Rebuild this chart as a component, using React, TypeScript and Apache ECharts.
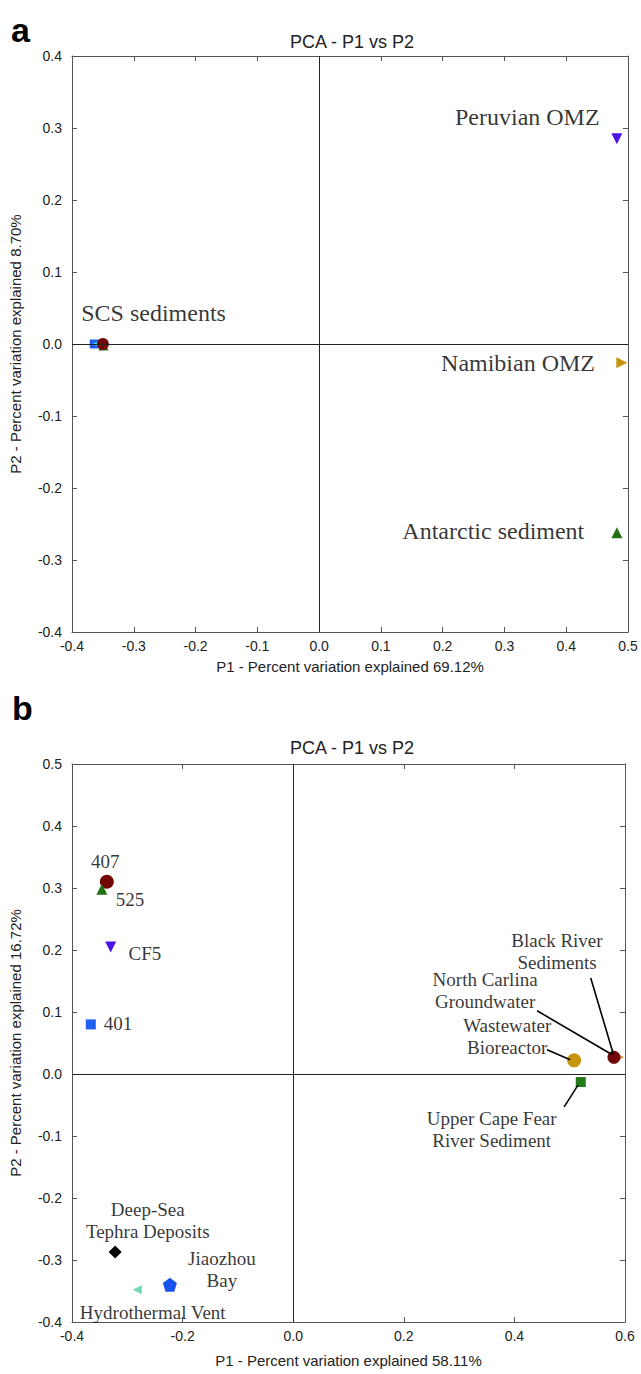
import React, { useEffect, useRef } from "react";
import * as echarts from "echarts";

// ---------- Panel a data ----------
const panelASamples = ["SCS sediment 1", "SCS sediment 2", "SCS sediment 3", "SCS sediment 4", "Peruvian OMZ", "Namibian OMZ", "Antarctic sediment"];
const panelAP1 = [-0.364, -0.361, -0.349, -0.350, 0.482, 0.490, 0.482];
const panelAP2 = [0.0, 0.0, -0.002, 0.0, 0.285, -0.026, -0.262];

const panelALabels = ["SCS sediments", "Peruvian OMZ", "Namibian OMZ", "Antarctic sediment"];
const panelALabelP1 = [-0.268, 0.337, 0.322, 0.282];
const panelALabelP2 = [0.043, 0.315, -0.026, -0.26];

// ---------- Panel b data ----------
const panelBSamples = ["401", "407", "525", "CF5", "North Carlina Groundwater", "Black River Sediments", "Wastewater Bioreactor", "Upper Cape Fear River Sediment", "Deep-Sea Tephra Deposits", "Jiaozhou Bay", "Hydrothermal Vent"];
const panelBP1 = [-0.366, -0.337, -0.346, -0.33, 0.587, 0.58, 0.508, 0.52, -0.322, -0.223, -0.282];
const panelBP2 = [0.08, 0.31, 0.298, 0.205, 0.027, 0.027, 0.022, -0.013, -0.287, -0.34, -0.348];

const panelBLabels = ["407", "525", "CF5", "401", "Black River\nSediments", "North Carlina\nGroundwater", "Wastewater\nBioreactor", "Upper Cape Fear\nRiver Sediment", "Deep-Sea\nTephra Deposits", "Jiaozhou\nBay", "Hydrothermal Vent"];
const panelBLabelP1 = [-0.34, -0.295, -0.268, -0.317, 0.477, 0.347, 0.387, 0.359, -0.263, -0.129, -0.254];
const panelBLabelP2 = [0.342, 0.282, 0.195, 0.081, 0.197, 0.135, 0.06, -0.09, -0.237, -0.316, -0.384];

// leader lines: from label end to point
const leaderFromP1 = [0.538, 0.441, 0.459, 0.515];
const leaderFromP2 = [0.155, 0.102, 0.039, -0.018];
const leaderToP1 = [0.579, 0.577, 0.501, 0.49];
const leaderToP2 = [0.032, 0.031, 0.023, -0.053];

// ---------- Axis ticks ----------
const axisAX = { min: -0.4, max: 0.5, interval: 0.1 };
const axisAY = { min: -0.4, max: 0.4, interval: 0.1 };
const axisBX = { min: -0.4, max: 0.6, interval: 0.2 };
const axisBY = { min: -0.4, max: 0.5, interval: 0.1 };

const TRI_DOWN = "path://M0,0 L10,0 L5,9 Z";
const TRI_RIGHT = "path://M0,0 L9,5 L0,10 Z";
const TRI_LEFT = "path://M9,0 L0,5 L9,10 Z";
const PENTAGON = "path://M5,0 L10,3.8 L8.1,10 L1.9,10 L0,3.8 Z";

const stylesA = [
  { symbol: "rect", color: "#1f5ff0", size: 9 },
  { symbol: TRI_LEFT, color: "#4fd6ec", size: 7 },
  { symbol: "triangle", color: "#237010", size: 10 },
  { symbol: "circle", color: "#720606", size: 12 },
  { symbol: TRI_DOWN, color: "#4a14e6", size: 11 },
  { symbol: TRI_RIGHT, color: "#c8920a", size: 11 },
  { symbol: "triangle", color: "#237010", size: 11 },
];

const stylesB = [
  { symbol: "rect", color: "#1f5ff0", size: 10 },
  { symbol: "circle", color: "#720606", size: 14 },
  { symbol: "triangle", color: "#237010", size: 11 },
  { symbol: TRI_DOWN, color: "#4a14e6", size: 11 },
  { symbol: TRI_RIGHT, color: "#e08a1e", size: 12 },
  { symbol: "circle", color: "#720606", size: 13 },
  { symbol: "circle", color: "#c8960c", size: 14 },
  { symbol: "rect", color: "#237a18", size: 10 },
  { symbol: "diamond", color: "#000000", size: 13 },
  { symbol: PENTAGON, color: "#1652ee", size: 14 },
  { symbol: TRI_LEFT, color: "#6ed8b6", size: 9 },
];

const SANS = "Liberation Sans";
const SERIF = "Liberation Serif";

const fmt = (v: number) => (Math.abs(v) < 1e-9 ? "0.0" : v.toFixed(1));

function mainAxis(kind: "x" | "y", gridIndex: number, range: any, name: string, nameGap: number) {
  return {
    type: "value",
    gridIndex,
    position: kind === "x" ? "bottom" : "left",
    ...range,
    name,
    nameLocation: "middle",
    nameGap,
    nameTextStyle: { fontFamily: SANS, fontSize: 15, color: "#222" },
    axisLine: { show: true, onZero: false, lineStyle: { color: "#555", width: 1 } },
    axisTick: { show: true, inside: true, length: 5, lineStyle: { color: "#555" } },
    axisLabel: { show: true, formatter: fmt, fontFamily: SANS, fontSize: 14, color: "#222", margin: kind === "x" ? 7 : 10 },
    splitLine: { show: false },
  };
}

function mirrorAxis(kind: "x" | "y", gridIndex: number, range: any) {
  return {
    type: "value",
    gridIndex,
    position: kind === "x" ? "top" : "right",
    ...range,
    axisLine: { show: true, onZero: false, lineStyle: { color: "#555", width: 1 } },
    axisTick: { show: true, inside: true, length: 5, lineStyle: { color: "#555" } },
    axisLabel: { show: false },
    splitLine: { show: false },
  };
}

export default function App() {
  const ref = useRef<HTMLDivElement>(null);
  useEffect(() => {
    if (!ref.current) return;
    const chart = echarts.init(ref.current, null, { renderer: "svg" });

    const pointsA = panelASamples.map((n, i) => ({
      name: n,
      value: [panelAP1[i], panelAP2[i]],
      symbol: stylesA[i].symbol,
      symbolSize: stylesA[i].size,
      itemStyle: { color: stylesA[i].color, opacity: 1 },
    }));
    const pointsB = panelBSamples.map((n, i) => ({
      name: n,
      value: [panelBP1[i], panelBP2[i]],
      symbol: stylesB[i].symbol,
      symbolSize: stylesB[i].size,
      itemStyle: { color: stylesB[i].color, opacity: 1 },
    }));
    const labelsA = panelALabels.map((n, i) => ({ name: n, value: [panelALabelP1[i], panelALabelP2[i]] }));
    const labelsB = panelBLabels.map((n, i) => ({ name: n, value: [panelBLabelP1[i], panelBLabelP2[i]] }));
    const leaders = leaderFromP1.map((_, i) => [
      { coord: [leaderFromP1[i], leaderFromP2[i]] },
      { coord: [leaderToP1[i], leaderToP2[i]] },
    ]);

    const zeroLine = {
      silent: true,
      symbol: ["none", "none"],
      label: { show: false },
      lineStyle: { color: "#222", width: 1, type: "solid" },
      emphasis: { disabled: true },
    };

    const option: any = {
      animation: false,
      backgroundColor: "#ffffff",
      title: [
        { text: "a", left: 6, top: 8, textStyle: { fontFamily: SANS, fontSize: 34, fontWeight: "bold", color: "#000" } },
        { text: "PCA - P1 vs P2", left: 347, top: 28, textAlign: "center", textStyle: { fontFamily: SANS, fontSize: 18, fontWeight: "normal", color: "#222" } },
        { text: "b", left: 7, top: 686, textStyle: { fontFamily: SANS, fontSize: 34, fontWeight: "bold", color: "#000" } },
        { text: "PCA - P1 vs P2", left: 347, top: 734, textAlign: "center", textStyle: { fontFamily: SANS, fontSize: 18, fontWeight: "normal", color: "#222" } },
      ],
      grid: [
        { left: 71, top: 56, width: 557, height: 576, containLabel: false },
        { left: 72, top: 764, width: 553, height: 558, containLabel: false },
      ],
      xAxis: [
        mainAxis("x", 0, axisAX, "P1 - Percent variation explained 69.12%", 27),
        mirrorAxis("x", 0, axisAX),
        mainAxis("x", 1, axisBX, "P1 - Percent variation explained 58.11%", 31),
        mirrorAxis("x", 1, axisBX),
      ],
      yAxis: [
        mainAxis("y", 0, axisAY, "P2 - Percent variation explained 8.70%", 49),
        mirrorAxis("y", 0, axisAY),
        mainAxis("y", 1, axisBY, "P2 - Percent variation explained 16.72%", 49),
        mirrorAxis("y", 1, axisBY),
      ],
      series: [
        {
          type: "scatter",
          xAxisIndex: 0,
          yAxisIndex: 0,
          silent: true,
          symbolSize: 0.1,
          itemStyle: { color: "transparent" },
          data: labelsA,
          label: {
            show: true,
            position: "inside",
            formatter: "{b}",
            fontFamily: SERIF,
            fontSize: 24,
            color: "#000",
          },
          markLine: { ...zeroLine, data: [{ xAxis: 0 }, { yAxis: 0 }] },
          z: 1,
        },
        {
          type: "scatter",
          xAxisIndex: 0,
          yAxisIndex: 0,
          silent: true,
          data: pointsA,
          z: 3,
        },
        {
          type: "scatter",
          xAxisIndex: 2,
          yAxisIndex: 2,
          silent: true,
          symbolSize: 0.1,
          itemStyle: { color: "transparent" },
          data: labelsB,
          label: {
            show: true,
            position: "inside",
            align: "center",
            formatter: "{b}",
            fontFamily: SERIF,
            fontSize: 19,
            lineHeight: 22,
            color: "#000",
          },
          markLine: {
            ...zeroLine,
            data: [
              { xAxis: 0 },
              { yAxis: 0 },
              ...leaders.map((l) => l.map((p) => ({ ...p, lineStyle: { color: "#000", width: 1.6 } }))),
            ],
          },
          z: 1,
        },
        {
          type: "scatter",
          xAxisIndex: 2,
          yAxisIndex: 2,
          silent: true,
          data: pointsB,
          z: 3,
        },
      ],
    };
    chart.setOption(option);
    return () => chart.dispose();
  }, []);

  return <div ref={ref} style={{ position: "fixed", left: 0, top: 0, width: 641, height: 1374, background: "#fff" }} />;
}
